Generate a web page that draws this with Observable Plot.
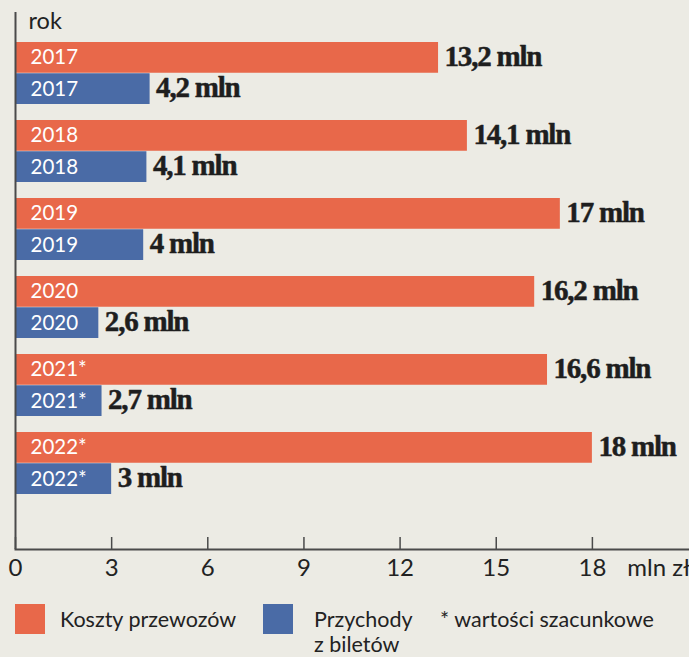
<!DOCTYPE html>
<html>
<head>
<meta charset="utf-8">
<script src="https://cdn.jsdelivr.net/npm/d3@7"></script>
<script src="https://cdn.jsdelivr.net/npm/@observablehq/plot@0.6"></script>
<style>
  html, body { margin: 0; padding: 0; background: #ecebe4; }
  body { width: 689px; height: 657px; overflow: hidden; font-family: Lato, "Open Sans", sans-serif; color: #222; }
  #chart svg { display: block; }
  .value text { letter-spacing: -1.2px; }
  #legend { position: relative; width: 689px; height: 67px; font-size: 21.5px; line-height: 25px; color: #222; }
  #legend .sw { position: absolute; width: 30px; height: 30px; }
  #legend .lt { position: absolute; white-space: nowrap; }
</style>
</head>
<body>
<div id="chart"></div>
<div id="legend"></div>
<script>
// ---- data ----
const years = ["2017", "2018", "2019", "2020", "2021*", "2022*"];
const koszty = [13.2, 14.1, 17, 16.2, 16.6, 18];
const przychody = [4.2, 4.1, 4, 2.6, 2.7, 3];
const xTicks = [0, 3, 6, 9, 12, 15, 18];
const seriesNames = ["Koszty przewozów", "Przychody\nz biletów"];
const footnote = "* wartości szacunkowe";
const yLabel = "rok";
const unitLabel = "mln zł";

const ORANGE = "#e8684a";
const BLUE = "#4a6ba6";
const INK = "#1e1e1e";
const AXIS = "#4a4a4a";

const data = years.map((year, i) => ({ year, koszty: koszty[i], przychody: przychody[i] }));
const fmt = v => String(v).replace(".", ",") + " mln";
const half = 31.25;

const valueStyle = { textAnchor: "start", lineAnchor: "middle", fontFamily: "Liberation Serif", fontWeight: "bold", fontSize: 29, fill: INK, stroke: INK, strokeWidth: 0.5, className: "value" };

const plot = Plot.plot({
  width: 689,
  height: 590,
  marginTop: 12,
  marginBottom: 41,
  marginLeft: 15,
  marginRight: 0,
  style: { background: "#ecebe4", fontFamily: "Lato, sans-serif", color: INK, overflow: "visible" },
  x: { domain: [0, 21.03], axis: null },
  y: { domain: years, paddingInner: 0.2, paddingOuter: 0.538, align: 0.357, axis: null },
  marks: [
    Plot.barX(data, { x: "koszty", y: "year", fill: ORANGE, insetBottom: half }),
    Plot.barX(data, { x: "przychody", y: "year", fill: BLUE, insetTop: half }),
    Plot.text(data, { y: "year", text: "year", frameAnchor: "left", dx: 15, dy: -half / 2, textAnchor: "start", lineAnchor: "middle", fill: "white", fontSize: 20.5 }),
    Plot.text(data, { y: "year", text: "year", frameAnchor: "left", dx: 15, dy: half / 2, textAnchor: "start", lineAnchor: "middle", fill: "white", fontSize: 20.5 }),
    Plot.text(data, { x: "koszty", y: "year", text: d => fmt(d.koszty), dx: 6, dy: -half / 2 - 1, ...valueStyle }),
    Plot.text(data, { x: "przychody", y: "year", text: d => fmt(d.przychody), dx: 6, dy: half / 2 - 1, ...valueStyle }),
    Plot.tickX(xTicks, { x: d => d, insetTop: 525, stroke: AXIS, strokeWidth: 1.5 }),
    Plot.axisX(xTicks, { tickSize: 0, tickPadding: 9, fontSize: 24, fill: "#222" }),
    Plot.text([unitLabel], { frameAnchor: "bottom-right", textAnchor: "end", lineAnchor: "top", dy: 9, dx: 1, fontSize: 24, fill: "#222" }),
    Plot.text([yLabel], { frameAnchor: "top-left", textAnchor: "start", lineAnchor: "middle", dx: 13, dy: 9, fontSize: 23.5, fill: "#222" }),
    Plot.frame({ anchor: "bottom", stroke: AXIS, strokeWidth: 2 }),
    Plot.ruleX([0], { stroke: AXIS, strokeWidth: 2 })
  ]
});
document.getElementById("chart").appendChild(plot);

// ---- legend ----
const legend = document.getElementById("legend");
const items = [
  { color: ORANGE, label: seriesNames[0], sx: 15, tx: 60 },
  { color: BLUE, label: seriesNames[1], sx: 263, tx: 314 }
];
for (const it of items) {
  const sw = document.createElement("div");
  sw.className = "sw";
  sw.style.left = it.sx + "px";
  sw.style.top = "14px";
  sw.style.background = it.color;
  legend.appendChild(sw);
  const t = document.createElement("div");
  t.className = "lt";
  t.style.left = it.tx + "px";
  t.style.top = "17px";
  t.innerHTML = it.label.split("\n").join("<br>");
  legend.appendChild(t);
}
const fn = document.createElement("div");
fn.className = "lt";
fn.style.left = "440px";
fn.style.top = "17px";
fn.textContent = footnote;
legend.appendChild(fn);
</script>
</body>
</html>
